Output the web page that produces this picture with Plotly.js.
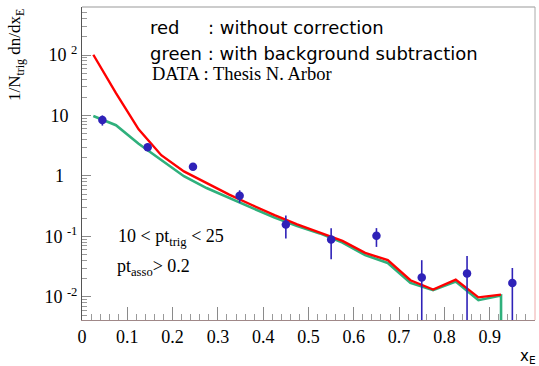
<!DOCTYPE html>
<html><head><meta charset="utf-8">
<script src="https://cdn.plot.ly/plotly-3.0.1.min.js"></script>
<style>html,body{margin:0;padding:0;background:#fff}#chart{width:539px;height:366px}</style>
</head><body><div id="chart"></div>
<script>
// histogram bin centres (x_E) for the two model curves
const binCenters = [0.025,0.075,0.125,0.175,0.225,0.275,0.325,0.375,0.425,0.475,0.525,0.575,0.625,0.675,0.725,0.775,0.825,0.875,0.925];
// red : without correction
const redValues = [101, 23.5, 5.9, 2.2, 1.19, 0.76, 0.49, 0.33, 0.224, 0.158, 0.117, 0.0843, 0.0533, 0.0404, 0.0188, 0.0132, 0.0193, 0.0098, 0.0109];
// green : with background subtraction (last bin empty -> drops to the axis floor)
const greenValues = [9.8, 6.9, 3.4, 1.83, 0.99, 0.63, 0.43, 0.295, 0.204, 0.148, 0.112, 0.079, 0.049, 0.0363, 0.0170, 0.0129, 0.0179, 0.0088, 0.0105];
const greenEmptyBinValue = 0.001;
// DATA : Thesis N. Arbor
const dataX = [0.045, 0.145, 0.245, 0.348, 0.45, 0.55, 0.65, 0.75, 0.85, 0.95];
const dataY = [8.4, 2.97, 1.42, 0.469, 0.157, 0.0889, 0.102, 0.0209, 0.0243, 0.0170];
const dataErr = [1.6, 0.4, 0.1, 0.11, 0.065, 0.047, 0.035, 0.0195, 0.023, 0.013];
// axis ticks
const xTickVals = [0,0.1,0.2,0.3,0.4,0.5,0.6,0.7,0.8,0.9,1];
const xTickText = ['0','0.1','0.2','0.3','0.4','0.5','0.6','0.7','0.8','0.9','1'];
const yTickVals = [0.01, 0.1, 1, 10, 100];
const yTickText = ['10 <sup>-2</sup>','10 <sup>-1</sup>','1&nbsp;&nbsp;&nbsp;','10&nbsp;&nbsp;','10 <sup>2</sup>'];

const W=539, H=366, L=82, R=4, T=7, B=46;
const pw=W-L-R, ph=H-T-B;
const px = v => (v-L)/pw;
const py = v => (H-B-v)/ph;
const yRange = [-2.383, 2.794];

const yMinor = [];
for (let k=-3;k<=2;k++) for (let m=2;m<=9;m++){ const v=m*Math.pow(10,k); const lv=Math.log10(v); if (lv>yRange[0] && lv<yRange[1]) yMinor.push(v); }

const greenX = binCenters.concat([binCenters[binCenters.length-1]]);
const greenY = greenValues.concat([greenEmptyBinValue]);

const traces = [
  {x: greenX, y: greenY, type:'scatter', mode:'lines', line:{color:'#2fb07c', width:2.6}, hoverinfo:'skip'},
  {x: binCenters, y: redValues, type:'scatter', mode:'lines', line:{color:'#ff0000', width:2.4}, hoverinfo:'skip'},
  {x: dataX, y: dataY, type:'scatter', mode:'markers', marker:{color:'#2f22b8', size:8.5},
   error_y:{type:'data', array:dataErr, visible:true, color:'#2f22b8', thickness:1.6, width:0}}
];

const serif = 'Liberation Serif, Times New Roman, serif';
const sans = 'DejaVu Sans, sans-serif';

const layout = {
  width:W, height:H, margin:{l:L, r:R, t:T, b:B, pad:0},
  paper_bgcolor:'#fff', plot_bgcolor:'#fff', showlegend:false,
  font:{family:serif, size:18, color:'#000'},
  xaxis:{range:[0,1], tickmode:'array', tickvals:xTickVals, ticktext:xTickText,
    ticks:'inside', ticklen:13, tickwidth:1, tickcolor:'#8a8a8a',
    minor:{dtick:0.02, tick0:0, ticks:'inside', ticklen:6, tickcolor:'#9a9a9a', tickwidth:1},
    showline:true, linecolor:'#a08888', linewidth:1, showgrid:false, zeroline:false,
    tickfont:{family:serif, size:18, color:'#000'}},
  yaxis:{type:'log', range:yRange, tickmode:'array', tickvals:yTickVals, ticktext:yTickText,
    ticks:'inside', ticklen:9, tickwidth:1, tickcolor:'#8a8a8a',
    minor:{tickmode:'array', tickvals:yMinor, ticks:'inside', ticklen:5, tickcolor:'#9a9a9a', tickwidth:1},
    showline:true, linecolor:'#555', linewidth:1, showgrid:false, zeroline:false,
    tickfont:{family:serif, size:18, color:'#000'}},
  shapes:[
    {type:'line', xref:'paper', yref:'paper', x0:0, x1:1, y0:1, y1:1, line:{color:'#999', width:1}},
    {type:'line', xref:'paper', yref:'paper', x0:1, x1:1, y0:1, y1:py(150), line:{color:'#aaa', width:1}},
    {type:'line', xref:'paper', yref:'paper', x0:1, x1:1, y0:py(150), y1:0, line:{color:'#eeaaaa', width:1}}
  ],
  annotations:[
    {text:'red', x:px(148), y:py(27), xref:'paper', yref:'paper', xanchor:'left', yanchor:'middle', showarrow:false, font:{family:sans, size:18, color:'#000'}},
    {text:': without correction', x:px(206), y:py(27), xref:'paper', yref:'paper', xanchor:'left', yanchor:'middle', showarrow:false, font:{family:sans, size:18, color:'#000'}},
    {text:'green : with background subtraction', x:px(148), y:py(54), xref:'paper', yref:'paper', xanchor:'left', yanchor:'middle', showarrow:false, font:{family:sans, size:18, color:'#000'}},
    {text:'DATA : Thesis N. Arbor', x:px(150), y:py(74), xref:'paper', yref:'paper', xanchor:'left', yanchor:'middle', showarrow:false, font:{family:serif, size:18.5, color:'#000'}},
    {text:'10 &lt; pt<sub>trig</sub> &lt; 25', x:px(116), y:py(237), xref:'paper', yref:'paper', xanchor:'left', yanchor:'middle', showarrow:false, font:{family:serif, size:18, color:'#000'}},
    {text:'pt<sub>asso</sub>&gt; 0.2', x:px(115), y:py(267), xref:'paper', yref:'paper', xanchor:'left', yanchor:'middle', showarrow:false, font:{family:serif, size:18, color:'#000'}},
    {text:'1/N<sub>trig</sub> dn/dx<sub>E</sub>', textangle:-90, x:px(16), y:py(55), xref:'paper', yref:'paper', xanchor:'center', yanchor:'middle', showarrow:false, font:{family:serif, size:17, color:'#000'}},
    {text:'x<sub>E</sub>', x:px(538), y:py(356), xref:'paper', yref:'paper', xanchor:'right', yanchor:'middle', showarrow:false, font:{family:sans, size:15, color:'#000'}}
  ]
};

Plotly.newPlot('chart', traces, layout, {displayModeBar:false, staticPlot:true});
</script></body></html>
